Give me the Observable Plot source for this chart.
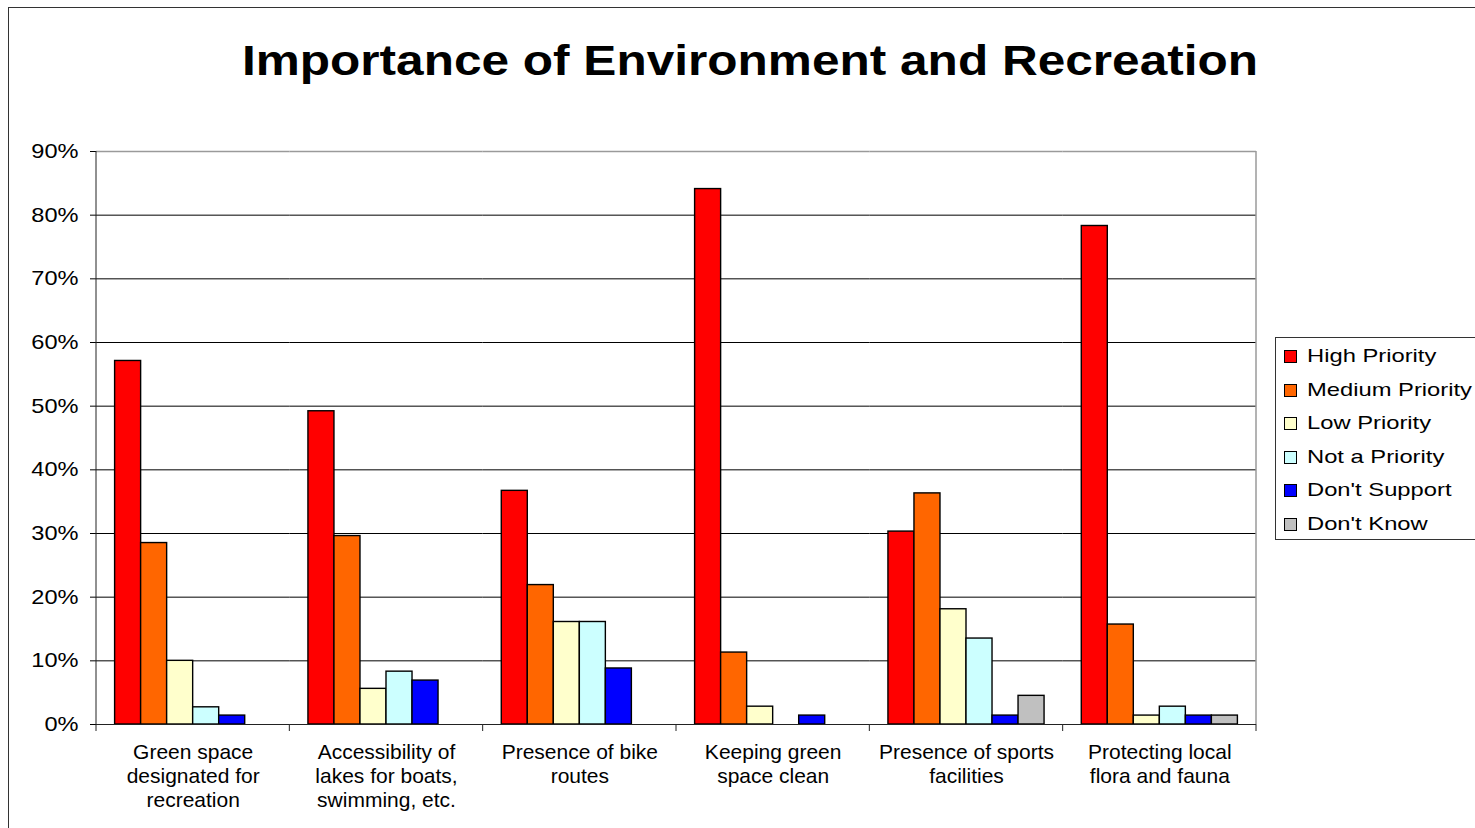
<!DOCTYPE html>
<html>
<head>
<meta charset="utf-8">
<script src="https://cdn.jsdelivr.net/npm/d3@7"></script>
<script src="https://cdn.jsdelivr.net/npm/@observablehq/plot@0.6"></script>
<style>
  html, body { margin: 0; padding: 0; background: #fff; overflow: hidden; }
  #chart { position: relative; width: 1475px; height: 828px; font-family: "Liberation Sans", Arial, sans-serif; }
  #border { position: absolute; left: 8px; top: 7px; width: 1500px; height: 900px; border: 1px solid #333; box-sizing: border-box; }
  #title { position: absolute; left: 0; width: 1500px; top: 40px; text-align: center; font-size: 42px; line-height: 42px; font-weight: bold; color: #000; transform: scaleX(1.18); transform-origin: 750px 0; white-space: nowrap; }
  #legend { position: absolute; left: 1275px; top: 337px; width: 240px; height: 203px; border: 1px solid #333; box-sizing: border-box; background: #fff; }
  .item { position: absolute; left: 0; height: 20px; }
  .swatch { position: absolute; left: 8px; top: 4px; width: 13px; height: 13px; border: 1px solid #000; box-sizing: border-box; }
  .label { position: absolute; left: 31px; top: 0; font-size: 19px; line-height: 20px; white-space: nowrap; transform: scaleX(1.25); transform-origin: 0 0; color: #000; }
  svg { position: absolute; left: 0; top: 0; }
</style>
</head>
<body>
<div id="chart">
  <div id="border"></div>
  <div id="title"></div>
  <div id="legend"></div>
</div>
<script>
// Survey categories (axis labels) and response series
const categories = [
  "Green space\ndesignated for\nrecreation",
  "Accessibility of\nlakes for boats,\nswimming, etc.",
  "Presence of bike\nroutes",
  "Keeping green\nspace clean",
  "Presence of sports\nfacilities",
  "Protecting local\nflora and fauna"
];
const series = ["High Priority", "Medium Priority", "Low Priority", "Not a Priority", "Don't Support", "Don't Know"];
const colors = ["#ff0000", "#ff6600", "#ffffcc", "#ccffff", "#0000ff", "#c0c0c0"];

// Share of respondents (%) per category, one array per series
const highPriority   = [57.1, 49.2, 36.7, 84.1, 30.3, 78.3];
const mediumPriority = [28.5, 29.6, 21.9, 11.3, 36.3, 15.7];
const lowPriority    = [10.0, 5.6, 16.1, 2.8, 18.1, 1.4];
const notAPriority   = [2.7, 8.3, 16.1, 0, 13.5, 2.8];
const dontSupport    = [1.4, 6.9, 8.8, 1.4, 1.4, 1.4];
const dontKnow       = [0, 0, 0, 0, 4.5, 1.4];

const yTicks = [0, 10, 20, 30, 40, 50, 60, 70, 80, 90];
const titleText = "Importance of Environment and Recreation";

const seriesValues = [highPriority, mediumPriority, lowPriority, notAPriority, dontSupport, dontKnow];
const rows = categories.flatMap((category, i) =>
  series.map((s, j) => ({category, series: s, value: seriesValues[j][i]}))
);

const plot = Plot.plot({
  width: 1475,
  height: 828,
  marginTop: 151,
  marginBottom: 104,
  marginLeft: 96,
  marginRight: 219,
  style: {fontFamily: "'Liberation Sans', Arial, sans-serif", background: "transparent", color: "#000"},
  fx: {domain: categories, padding: 0, round: false, label: null},
  x: {domain: series, paddingInner: 0, paddingOuter: 0.715, round: false, axis: null},
  y: {domain: [0, 90], label: null},
  color: {domain: series, range: colors},
  marks: [
    Plot.gridY(yTicks.filter(t => t > 0 && t < 90), {stroke: "#000", strokeOpacity: 1}),
    Plot.gridY(yTicks.filter(t => t === 90), {stroke: "#9a9a9a", strokeOpacity: 1, strokeWidth: 1.5}),
    Plot.barY(rows.filter(d => d.value > 0), {
      fx: "category", x: "series", y: "value", fill: "series",
      stroke: "#000", strokeWidth: 1.4
    }),
    Plot.ruleY([0], {stroke: "#222"}),
    Plot.axisY({ticks: yTicks, tickFormat: d => d + "%", tickSize: 6, tickPadding: 12, fontSize: 20, label: null}),
    Plot.axisFx({anchor: "bottom", tickSize: 0, tickPadding: 17, fontSize: 20, lineHeight: 1.2, label: null})
  ]
});

document.getElementById("chart").appendChild(plot);

// Axis frame pieces placed from the plot's own scales
const fx = plot.scale("fx");
const y = plot.scale("y");
const y0 = y.apply(0);
const yTop = y.apply(90);
const bounds = categories.map(c => fx.apply(c));
bounds.push(fx.apply(categories[categories.length - 1]) + fx.bandwidth);
const svg = d3.select(plot);
const g = svg.append("g");
g.append("line")
  .attr("x1", bounds[0]).attr("x2", bounds[0]).attr("y1", yTop).attr("y2", y0)
  .attr("stroke", "#222");
g.append("line")
  .attr("x1", bounds[bounds.length - 1]).attr("x2", bounds[bounds.length - 1]).attr("y1", yTop).attr("y2", y0)
  .attr("stroke", "#9a9a9a").attr("stroke-width", 1.5);
g.selectAll("line.tick").data(bounds).join("line")
  .attr("x1", d => d).attr("x2", d => d).attr("y1", y0).attr("y2", y0 + 7)
  .attr("stroke", "#222");

// Widen axis label glyphs around their anchor point
function widen(selector, k) {
  plot.querySelectorAll(selector).forEach(t => {
    let tr = t.getAttribute("transform");
    if (!tr) {
      const x = +(t.getAttribute("x") || 0), yy = +(t.getAttribute("y") || 0);
      t.removeAttribute("x"); t.removeAttribute("y");
      tr = `translate(${x},${yy})`;
    }
    t.setAttribute("transform", `${tr} scale(${k},1)`);
  });
}
widen("[aria-label='y-axis tick label'] text", 1.18);
widen("[aria-label='fx-axis tick label'] text", 1.05);

// Title and legend
document.getElementById("title").textContent = titleText;
const legend = d3.select("#legend");
series.forEach((s, i) => {
  const item = legend.append("div").attr("class", "item").style("top", `${8 + i * 33.5}px`);
  item.append("div").attr("class", "swatch").style("background", colors[i]);
  item.append("div").attr("class", "label").text(s);
});
</script>
</body>
</html>
